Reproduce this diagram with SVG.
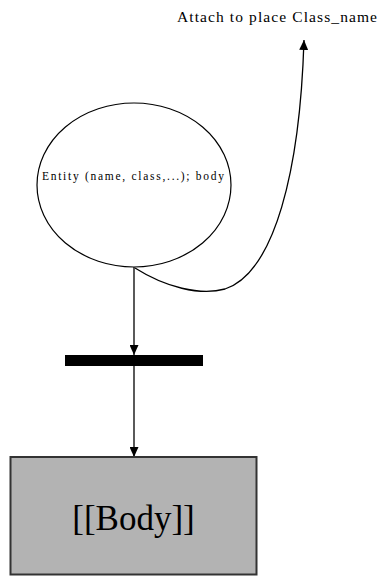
<svg xmlns="http://www.w3.org/2000/svg" width="379" height="576" viewBox="0 0 379 576">
<style>
.ln{fill:none;stroke:#000;stroke-width:1.3}
.t{font-family:"Liberation Serif",serif;fill:#000}
</style>
<defs>
<marker id="ah" viewBox="0 0 10 10" refX="10" refY="5" markerWidth="10" markerHeight="9" orient="auto" markerUnits="userSpaceOnUse" preserveAspectRatio="none">
<path d="M0,0 L10,5 L0,10 z" fill="#000"/>
</marker>
</defs>
<rect width="379" height="576" fill="#fff"/>
<g id="connectors">
<path class="ln" d="M134,267 L134,355" marker-end="url(#ah)"/>
<path class="ln" d="M134,366 L134,457" marker-end="url(#ah)"/>
<path class="ln" d="M135,268 C165,287 200,296 225,289 C275,272 300,170 304,40" marker-end="url(#ah)"/>
</g>
<g id="entity">
<ellipse cx="134" cy="185" rx="97" ry="82" fill="#fff" stroke="#000" stroke-width="1.2"/>
<text class="t" x="42" y="180" font-size="11.5" textLength="182" lengthAdjust="spacing">Entity (name, class,...); body</text>
</g>
<g id="bar">
<rect x="65" y="355" width="138" height="11" fill="#000"/>
</g>
<g id="body">
<rect x="10.5" y="457" width="246" height="117.5" fill="#b3b3b3" stroke="#333" stroke-width="2"/>
<text class="t" x="133.5" y="530" font-size="35" text-anchor="middle">[[Body]]</text>
</g>
<g id="label">
<text class="t" x="177" y="22" font-size="15.5" textLength="200" lengthAdjust="spacing">Attach to place Class_name</text>
</g>
</svg>
